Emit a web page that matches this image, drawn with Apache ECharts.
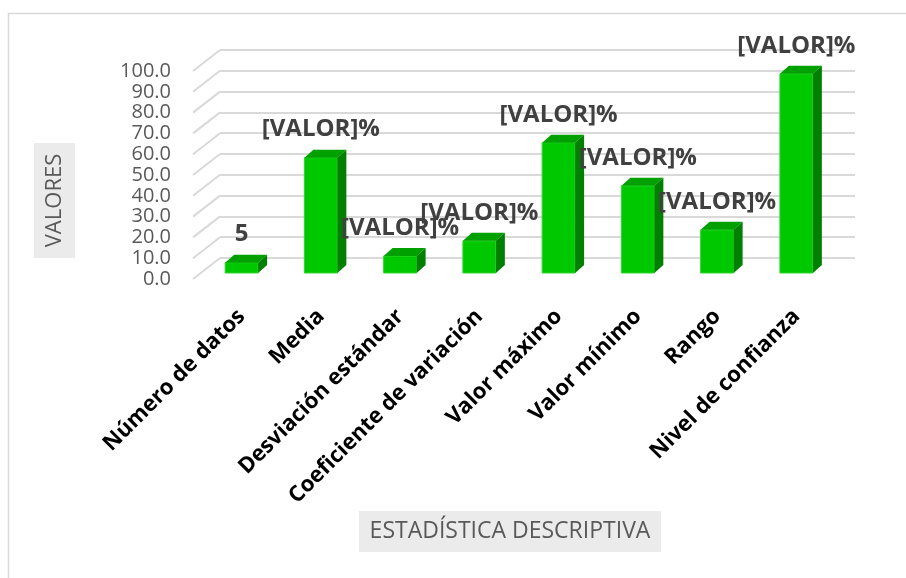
<!DOCTYPE html>
<html>
<head>
<meta charset="utf-8">
<script src="https://cdn.jsdelivr.net/npm/echarts@6/dist/echarts.min.js"></script>
<style>
  html, body { margin: 0; padding: 0; background: #fff; }
  #chart { width: 906px; height: 578px; }
</style>
</head>
<body>
<div id="chart"></div>
<script>
// data
var categories = ["Número de datos", "Media", "Desviación estándar", "Coeficiente de variación",
                  "Valor máximo", "Valor mínimo", "Rango", "Nivel de confianza"];
var values = [5, 55.6, 8.2, 15.5, 62.8, 42, 20.8, 96];
var labelTexts = ["5", "[VALOR]%", "[VALOR]%", "[VALOR]%", "[VALOR]%", "[VALOR]%", "[VALOR]%", "[VALOR]%"];
var tickValues = [0, 10, 20, 30, 40, 50, 60, 70, 80, 90, 100];

var chart = echarts.init(document.getElementById("chart"));

// depth offsets for the fake 3d look
var wallDx = 27, wallDy = 21;
var barDx = 9, barDy = 8;

function renderBar(params, api) {
    var idx = api.value(0);
    var val = api.value(1);
    var base = api.coord([idx, 0]);
    var top = api.coord([idx, val]);
    var w = api.size([1, 0])[0] * 0.416;
    var x0 = base[0] - w / 2, x1 = base[0] + w / 2;
    var yb = base[1], yt = top[1];
    return {
        type: "group",
        children: [
            { type: "rect", shape: { x: x0, y: yt, width: w, height: yb - yt },
              style: { fill: "#00c800", stroke: "#2ed62e", lineWidth: 1 } },
            { type: "polygon", shape: { points: [[x0, yt], [x1, yt], [x1 + barDx, yt - barDy], [x0 + barDx, yt - barDy]] },
              style: { fill: "#00a000" } },
            { type: "polygon", shape: { points: [[x1, yt], [x1 + barDx, yt - barDy], [x1 + barDx, yb - barDy], [x1, yb]] },
              style: { fill: "#008000" } },
            { type: "text", style: { text: labelTexts[idx], x: base[0], y: yt - 28, align: "center", verticalAlign: "middle",
              font: "bold 24px 'Open Sans'", fill: "#404040" } }
        ]
    };
}

function renderSlant(params, api) {
    var v = api.value(0);
    var p = api.coord([0, v]);
    var x = params.coordSys.x;
    return {
        type: "line",
        shape: { x1: x - wallDx, y1: p[1] + wallDy, x2: x, y2: p[1] },
        style: { stroke: "#d9d9d9", lineWidth: 2 }
    };
}

var option = {
    animation: false,
    backgroundColor: "#fff",
    grid: [
        { left: 220, right: 51, top: 50, bottom: 320 },   // back wall
        { left: 193, right: 78, top: 71, bottom: 299 },   // front plane (labels)
        { left: 202, right: 70, top: 65.5, bottom: 305 }  // bars
    ],
    xAxis: [
        { gridIndex: 0, type: "category", data: categories, show: false },
        { gridIndex: 1, type: "category", data: categories, show: false },
        { gridIndex: 2, type: "category", data: categories,
          axisLine: { show: false }, axisTick: { show: false },
          axisLabel: { interval: 0, rotate: 45, margin: 40, color: "#000",
                       fontFamily: "Open Sans", fontWeight: "bold", fontSize: 22 } }
    ],
    yAxis: [
        { gridIndex: 0, type: "value", min: 0, max: 100, interval: 10,
          axisLabel: { show: false }, axisLine: { show: false }, axisTick: { show: false },
          splitLine: { lineStyle: { color: "#d9d9d9", width: 2 } } },
        { gridIndex: 1, type: "value", min: 0, max: 100, interval: 10,
          axisLine: { show: false }, axisTick: { show: false }, splitLine: { show: false },
          axisLabel: { margin: 22, color: "#595959", fontFamily: "Open Sans", fontSize: 20,
                       formatter: function (v) { return v.toFixed(1); } } },
        { gridIndex: 2, type: "value", min: 0, max: 100, interval: 10, show: false }
    ],
    graphic: [
        { type: "rect", shape: { x: 8.5, y: 13.5, width: 920, height: 600 },
          style: { fill: null, stroke: "#d9d9d9", lineWidth: 1.5 }, z: -1 },
        { type: "rect", shape: { x: 34, y: 143, width: 41, height: 115 }, style: { fill: "#ebebeb" } },
        { type: "text", x: 54.5, y: 200.5, rotation: Math.PI / 2,
          style: { text: "VALORES", align: "center", verticalAlign: "middle",
                   font: "22px 'Open Sans'", fill: "#595959" } },
        { type: "rect", shape: { x: 359, y: 511, width: 302, height: 41 }, style: { fill: "#ebebeb" } },
        { type: "text", x: 510, y: 531.5,
          style: { text: "ESTADÍSTICA DESCRIPTIVA", align: "center", verticalAlign: "middle",
                   font: "23px 'Open Sans'", fill: "#595959" } }
    ],
    series: [
        { type: "custom", xAxisIndex: 0, yAxisIndex: 0, renderItem: renderSlant,
          data: tickValues.map(function (v) { return [v]; }), encode: { y: 0 }, silent: true, z: 1 },
        { type: "custom", xAxisIndex: 2, yAxisIndex: 2, renderItem: renderBar,
          data: values.map(function (v, i) { return [i, v]; }), encode: { x: 0, y: 1 }, z: 5 }
    ]
};

chart.setOption(option);
</script>
</body>
</html>
